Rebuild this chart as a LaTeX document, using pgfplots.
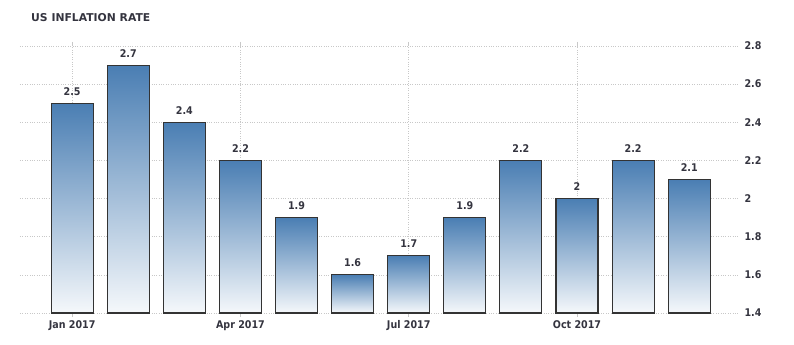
\documentclass[border=0pt]{standalone}
\usepackage{pgfplots}
\pgfplotsset{compat=1.18}
\usepackage{fontspec}
\setmainfont{DejaVu Sans}[FakeStretch=0.9]
\newfontfamily\titlefamily{DejaVu Sans}
\definecolor{txt}{HTML}{34343F}
\definecolor{bartop}{HTML}{4A7EB3}
\definecolor{barbot}{HTML}{F5F8FB}
\definecolor{gridc}{HTML}{C8C8C8}
\definecolor{edge}{HTML}{333333}
\newcommand{\lblfont}{\fontsize{10.6bp}{12bp}\selectfont\bfseries}
\pgfplotsset{mybar/.style={draw=edge, line width=1.1bp, top color=bartop, bottom color=barbot}}
\begin{document}
\begin{tikzpicture}
\useasboundingbox (0,0) rectangle (794bp,345bp);
\node[anchor=west, text=txt, font=\titlefamily\fontsize{10.8bp}{12bp}\selectfont\bfseries, inner sep=0] at (31bp,327bp) {US INFLATION RATE};
\begin{axis}[
  at={(20bp,32bp)}, anchor=south west,
  scale only axis, width=718bp, height=267bp,
  xmin=-0.93, xmax=11.87,
  ymin=0, ymax=1.4,
  y filter/.expression={y-1.4},
  ytick={0,0.2,0.4,0.6,0.8,1.0,1.2,1.4},
  yticklabels={1.4,1.6,1.8,2,2.2,2.4,2.6,2.8},
  yticklabel pos=right,
  xtick={0,3,6,9},
  xticklabels={Jan 2017,Apr 2017,Jul 2017,Oct 2017},
  axis line style={draw=none},
  ytick style={draw=none},
  xtick style={draw=gridc, line width=0.6bp},
  tick align=outside,
  major tick length=4bp,
  grid=major,
  major grid style={gridc, dotted, line width=0.6bp},
  ticklabel style={text=txt, font=\lblfont},
  yticklabel style={xshift=-1bp},
  ybar, bar width=42bp, bar shift=0pt,
  point meta=rawy,
  nodes near coords={\pgfmathprintnumber[assume math mode=true]{\pgfplotspointmeta}},
  nodes near coords style={text=txt, font=\lblfont, yshift=4bp},
  clip=false,
]
\addplot[mybar] coordinates {(0,2.5)};
\addplot[mybar] coordinates {(1,2.7)};
\addplot[mybar] coordinates {(2,2.4)};
\addplot[mybar] coordinates {(3,2.2)};
\addplot[mybar] coordinates {(4,1.9)};
\addplot[mybar] coordinates {(5,1.6)};
\addplot[mybar] coordinates {(6,1.7)};
\addplot[mybar] coordinates {(7,1.9)};
\addplot[mybar] coordinates {(8,2.2)};
\addplot[mybar] coordinates {(9,2.0)};
\addplot[mybar] coordinates {(10,2.2)};
\addplot[mybar] coordinates {(11,2.1)};
\end{axis}
\end{tikzpicture}
\end{document}
